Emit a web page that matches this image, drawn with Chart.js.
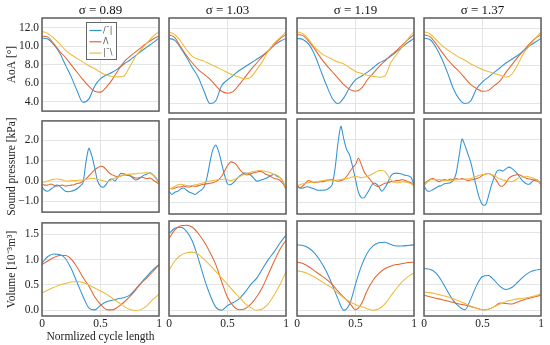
<!DOCTYPE html>
<html>
<head>
<meta charset="utf-8">
<script src="https://cdn.jsdelivr.net/npm/chart.js@4.4.1/dist/chart.umd.min.js"></script>
<style>
html, body { margin: 0; padding: 0; background: #fff; }
#wrap { position: relative; width: 550px; height: 345px; overflow: hidden; }
#wrap canvas { position: absolute; }
</style>
</head>
<body>
<div id="wrap"></div>
<script>
// column headers and legend entries
const sigmas = ["0.89", "1.03", "1.19", "1.37"];
const shapes = ["/\u00af|", "\u039b", "|\u00af\\"];
const rowLabels = ["AoA [\u00b0]", "Sound pressure [kPa]", "Volume [10\u207b\u00b3m\u00b3]"];
const xLabel = "Normlized cycle length";

// x positions (normalized cycle)
const xs21 = [0,0.05,0.1,0.15,0.2,0.25,0.3,0.35,0.4,0.45,0.5,0.55,0.6,0.65,0.7,0.75,0.8,0.85,0.9,0.95,1];
const xs41 = [0,0.025,0.05,0.075,0.1,0.125,0.15,0.175,0.2,0.225,0.25,0.275,0.3,0.325,0.35,0.375,0.4,0.425,0.45,0.475,0.5,
              0.525,0.55,0.575,0.6,0.625,0.65,0.675,0.7,0.725,0.75,0.775,0.8,0.825,0.85,0.875,0.9,0.925,0.95,0.975,1];

// AoA
const aoaB1 = [10.9,10.8,10.2,9.3,8.0,6.7,5.2,3.95,4.3,5.7,6.5,6.9,7.2,7.6,8.1,8.5,9.0,9.5,9.95,10.4,10.9];
const aoaO1 = [11.1,11.0,10.3,9.5,8.8,8.0,7.2,6.4,5.7,5.15,5.05,5.6,6.4,7.4,8.3,8.9,9.4,9.9,10.4,10.8,11.1];
const aoaY1 = [11.6,11.4,10.9,10.3,9.6,9.1,8.7,8.3,7.9,7.6,7.2,6.9,6.75,6.7,6.8,7.8,8.9,9.7,10.4,11.1,11.6];
const aoaB2 = [10.9,10.7,9.9,8.9,7.8,6.8,5.3,4.0,4.3,5.9,6.5,7.0,7.5,7.9,8.3,8.7,9.1,9.6,10.2,10.6,10.9];
const aoaO2 = [11.3,11.0,10.0,9.1,8.3,7.6,7.1,6.6,5.9,5.3,5.1,5.3,6.0,6.8,7.6,8.3,9.0,9.6,10.3,10.9,11.3];
const aoaY2 = [11.6,11.3,10.6,9.7,9.0,8.7,8.5,8.2,7.9,7.6,7.3,7.0,6.8,6.6,6.8,7.6,8.5,9.6,10.4,11.0,11.6];
const aoaB3 = [10.9,10.8,10.3,9.2,7.6,6.0,4.6,4.0,4.6,5.7,6.5,6.9,7.3,7.8,8.3,8.6,9.0,9.5,10.0,10.5,10.9];
const aoaO3 = [11.3,11.2,10.6,9.8,8.9,8.1,7.4,6.7,6.0,5.5,5.3,5.6,6.5,7.2,7.9,8.5,9.1,9.6,10.2,10.8,11.3];
const aoaY3 = [11.6,11.4,10.8,10.0,9.4,9.0,8.7,8.4,8.2,7.8,7.4,7.2,7.0,6.9,6.8,6.9,8.3,9.2,10.0,10.9,11.6];
const aoaB4 = [10.9,10.8,10.0,8.8,7.3,5.6,4.5,4.0,4.3,5.6,6.3,6.8,7.3,7.8,8.3,8.7,9.1,9.6,10.1,10.5,10.9];
const aoaO4 = [11.3,11.1,10.4,9.5,8.7,8.0,7.4,6.7,6.0,5.6,5.3,5.4,5.9,6.4,7.3,8.1,8.9,9.6,10.3,10.9,11.3];
const aoaY4 = [11.6,11.4,10.8,10.2,9.7,9.3,8.9,8.6,8.2,7.9,7.6,7.4,7.2,7.0,6.8,7.1,8.1,9.3,10.1,10.9,11.6];

// sound pressure
const spB1 = [-0.3,-0.45,-0.5,-0.4,-0.3,-0.2,-0.25,-0.38,-0.5,-0.52,-0.5,-0.45,-0.38,-0.25,-0.1,0.9,1.6,1.25,0.65,0.0,-0.25,-0.3,-0.15,0.05,0.1,0.0,0.2,0.38,0.35,0.3,0.25,0.15,0.05,0.1,0.2,0.3,0.35,0.4,0.3,0.15,-0.1];
const spO1 = [-0.15,-0.2,-0.2,-0.15,-0.2,-0.25,-0.22,-0.2,-0.25,-0.22,-0.2,-0.18,-0.12,-0.1,0.0,0.1,0.25,0.4,0.55,0.65,0.72,0.7,0.55,0.4,0.3,0.25,0.2,0.25,0.3,0.28,0.3,0.2,0.15,0.15,0.2,0.15,0.12,0.15,0.05,-0.05,-0.15];
const spY1 = [-0.05,-0.05,0.0,0.05,0.08,0.1,0.08,0.05,0.0,0.0,0.02,0.02,0.03,0.05,0.05,0.08,0.1,0.12,0.12,0.08,0.05,0.0,-0.03,0.0,0.08,0.15,0.2,0.25,0.3,0.32,0.33,0.35,0.35,0.38,0.38,0.4,0.4,0.38,0.28,0.1,-0.1];
const spB2 = [-0.45,-0.6,-0.5,-0.45,-0.35,-0.3,-0.4,-0.5,-0.55,-0.6,-0.5,-0.4,-0.25,0.2,0.9,1.5,1.72,1.4,0.85,0.3,-0.1,-0.15,-0.05,0.1,0.25,0.35,0.4,0.38,0.3,0.15,0.02,0.05,0.1,0.15,0.22,0.3,0.33,0.25,0.18,0.0,-0.35];
const spO2 = [-0.3,-0.35,-0.3,-0.25,-0.25,-0.2,-0.25,-0.25,-0.2,-0.22,-0.2,-0.15,-0.12,-0.1,-0.08,-0.05,0.0,0.1,0.25,0.5,0.75,0.92,0.9,0.8,0.6,0.45,0.35,0.32,0.38,0.42,0.45,0.48,0.45,0.35,0.3,0.22,0.15,0.12,0.05,-0.1,-0.35];
const spY2 = [-0.35,-0.3,-0.22,-0.15,-0.12,-0.15,-0.18,-0.2,-0.18,-0.15,-0.12,-0.08,-0.05,0.0,0.03,0.05,0.08,0.1,0.1,0.12,0.1,0.05,0.08,0.15,0.22,0.3,0.35,0.4,0.45,0.48,0.5,0.52,0.5,0.48,0.45,0.4,0.35,0.3,0.18,0.0,-0.35];
const spB3 = [-0.2,-0.3,-0.3,-0.25,-0.25,-0.3,-0.35,-0.4,-0.4,-0.4,-0.38,-0.3,-0.15,0.6,1.8,2.6,2.0,1.5,1.25,0.7,0.1,-0.5,-0.75,-0.75,-0.55,-0.3,-0.08,-0.1,-0.25,-0.45,-0.3,-0.05,0.25,0.38,0.4,0.38,0.35,0.3,0.28,0.2,-0.15];
const spO3 = [-0.15,-0.3,-0.2,-0.05,0.05,0.0,-0.05,-0.02,0.0,0.0,0.05,0.08,0.1,0.05,0.02,0.05,0.1,0.25,0.45,0.65,0.8,1.1,0.8,0.45,0.25,0.1,-0.1,-0.2,-0.22,-0.15,-0.08,-0.05,0.0,0.0,0.05,0.05,0.1,0.05,0.0,-0.05,-0.2];
const spY3 = [-0.2,-0.15,-0.1,-0.08,-0.05,-0.03,-0.02,0.0,0.03,0.05,0.08,0.08,0.06,0.06,0.08,0.1,0.12,0.15,0.18,0.22,0.25,0.22,0.18,0.2,0.25,0.3,0.38,0.45,0.52,0.52,0.48,0.3,0.1,0.0,-0.05,-0.05,0.0,-0.02,-0.05,-0.1,-0.2];
const spB4 = [-0.2,-0.42,-0.45,-0.38,-0.3,-0.22,-0.18,-0.1,-0.08,-0.05,0.05,0.4,1.2,2.0,1.7,1.3,0.9,0.3,-0.3,-0.8,-1.08,-1.1,-0.7,-0.2,0.2,0.5,0.55,0.5,0.6,0.68,0.62,0.5,0.35,0.15,0.0,-0.1,-0.12,0.0,0.1,0.05,-0.15];
const spO4 = [-0.1,0.0,0.1,0.15,0.08,0.0,0.05,0.1,0.05,0.12,0.1,0.15,0.1,0.15,0.1,0.05,0.08,0.1,0.15,0.2,0.3,0.35,0.38,0.33,0.2,0.0,-0.2,-0.2,-0.05,0.15,0.25,0.3,0.33,0.3,0.22,0.15,0.12,0.1,0.05,0.0,-0.1];
const spY4 = [-0.2,-0.05,0.08,0.1,0.08,0.1,0.08,0.05,0.06,0.05,0.06,0.08,0.1,0.1,0.12,0.12,0.15,0.2,0.25,0.3,0.33,0.36,0.38,0.35,0.28,0.2,0.12,0.08,0.05,0.02,0.0,0.05,0.15,0.2,0.22,0.25,0.22,0.18,0.12,0.05,-0.15];

// volume
const volB1 = [0.93,1.06,1.11,1.1,1.02,0.82,0.55,0.28,0.05,0.01,0.1,0.17,0.2,0.23,0.25,0.3,0.42,0.55,0.68,0.8,0.9];
const volO1 = [0.9,0.97,1.04,1.08,1.08,1.01,0.85,0.65,0.48,0.27,0.12,0.02,0.01,0.07,0.16,0.27,0.4,0.54,0.65,0.77,0.9];
const volY1 = [0.34,0.4,0.45,0.5,0.53,0.56,0.57,0.55,0.5,0.44,0.38,0.32,0.24,0.16,0.08,0.02,0.0,0.02,0.1,0.22,0.32];
const volB2 = [1.48,1.58,1.6,1.52,1.33,1.0,0.62,0.3,0.06,0.0,0.09,0.15,0.22,0.35,0.5,0.62,0.8,0.98,1.13,1.3,1.45];
const volO2 = [1.38,1.55,1.63,1.64,1.6,1.48,1.32,1.12,0.88,0.55,0.25,0.08,0.01,0.03,0.12,0.26,0.45,0.7,0.95,1.18,1.35];
const volY2 = [0.77,0.95,1.06,1.11,1.12,1.08,0.98,0.87,0.75,0.62,0.5,0.37,0.25,0.13,0.05,0.0,0.03,0.13,0.3,0.5,0.74];
const volB3 = [1.26,1.25,1.2,1.1,0.95,0.75,0.5,0.22,0.0,0.12,0.5,0.85,1.1,1.24,1.3,1.31,1.27,1.24,1.24,1.25,1.26];
const volO3 = [0.93,0.9,0.84,0.76,0.68,0.6,0.5,0.37,0.25,0.14,0.01,0.12,0.38,0.58,0.71,0.8,0.85,0.88,0.9,0.92,0.93];
const volY3 = [0.76,0.74,0.7,0.64,0.57,0.5,0.43,0.33,0.24,0.17,0.11,0.07,0.03,0.0,0.03,0.12,0.27,0.42,0.55,0.65,0.72];
const volB4 = [0.8,0.79,0.72,0.57,0.37,0.19,0.07,0.01,0.22,0.48,0.65,0.67,0.58,0.46,0.4,0.44,0.54,0.65,0.73,0.77,0.79];
const volO4 = [0.29,0.26,0.23,0.21,0.18,0.15,0.12,0.1,0.07,0.04,0.01,0.02,0.07,0.14,0.13,0.12,0.16,0.2,0.23,0.26,0.29];
const volY4 = [0.35,0.34,0.32,0.29,0.26,0.22,0.18,0.13,0.08,0.04,0.01,0.02,0.07,0.12,0.17,0.2,0.22,0.23,0.25,0.28,0.32];

const rows = [
  [[aoaB1, aoaO1, aoaY1], [aoaB2, aoaO2, aoaY2], [aoaB3, aoaO3, aoaY3], [aoaB4, aoaO4, aoaY4]],
  [[spB1, spO1, spY1], [spB2, spO2, spY2], [spB3, spO3, spY3], [spB4, spO4, spY4]],
  [[volB1, volO1, volY1], [volB2, volO2, volY2], [volB3, volO3, volY3], [volB4, volO4, volY4]]
];
const rowX = [xs21, xs41, xs21];

// axes setup
const rowMin = [3.0, -1.52, -0.11];
const rowMax = [13.07, 2.94, 1.72];
const rowStep = [2, 1, 0.5];
const colors = ["#3192d6", "#e4652f", "#efbb3a"];

const colLeft = [42, 169, 297, 424];
const rowTop = [18, 119, 221];
const plotW = 117, plotH = 95;

Chart.defaults.font.family = "'Liberation Serif', serif";
Chart.defaults.color = "#222";

const frame = {
  id: "frame",
  afterDraw(chart) {
    const a = chart.chartArea, ctx = chart.ctx;
    ctx.save();
    ctx.strokeStyle = "#5c5c5c";
    ctx.lineWidth = 1.5;
    ctx.strokeRect(a.left, a.top, a.right - a.left, a.bottom - a.top);
    ctx.restore();
  }
};

const legendBox = {
  id: "legendBox",
  afterDatasetsDraw(chart) {
    if (!chart.options.plugins.legendBox.show) return;
    const a = chart.chartArea, ctx = chart.ctx;
    const x = a.left + 44, y = a.top + 4, w = 30, h = 37;
    ctx.save();
    ctx.fillStyle = "#fff";
    ctx.fillRect(x, y, w, h);
    ctx.strokeStyle = "#666";
    ctx.lineWidth = 1;
    ctx.strokeRect(x + 0.5, y + 0.5, w, h);
    ctx.font = "8px 'DejaVu Sans'";
    ctx.textBaseline = "middle";
    chart.data.datasets.forEach((ds, i) => {
      const yy = y + 8.5 + i * 11.3;
      ctx.strokeStyle = ds.borderColor;
      ctx.lineWidth = 1.2;
      ctx.beginPath();
      ctx.moveTo(x + 3.5, yy);
      ctx.lineTo(x + 15.5, yy);
      ctx.stroke();
      ctx.fillStyle = "#555";
      ctx.fillText(ds.label, x + 17, yy);
    });
    ctx.restore();
  }
};

function yTick(r) {
  return function (v) {
    if (r === 1 && v < 0) return "\u2212" + Math.abs(v).toFixed(1);
    return v.toFixed(1);
  };
}

const wrap = document.getElementById("wrap");

function panel(r, c) {
  const cv = document.createElement("canvas");
  const padL = c === 0 ? 4 : 6, yW = c === 0 ? 38 : 0, padR = 6;
  const titleH = r === 0 ? 18 : 0, padT = r === 0 ? 0 : 8;
  const xH = r === 2 ? 29 : 0, padB = r === 2 ? 0 : 8;
  cv.width = padL + yW + plotW + padR;
  cv.height = titleH + padT + plotH + xH + padB;
  cv.style.left = (colLeft[c] - padL - yW) + "px";
  cv.style.top = (rowTop[r] - titleH - padT) + "px";
  wrap.appendChild(cv);

  const xs = rowX[r];
  const series = rows[r][c];
  const datasets = series.map((vals, i) => ({
    label: shapes[i],
    data: xs.map((x, k) => ({ x: x, y: vals[k] })),
    borderColor: colors[i],
    borderWidth: 1.05,
    pointRadius: 0,
    fill: false,
    order: 3 - i,
    tension: r === 1 ? 0.25 : 0,
    cubicInterpolationMode: r === 1 ? "default" : "monotone"
  }));

  new Chart(cv, {
    type: "line",
    data: { datasets: datasets },
    options: {
      responsive: false,
      animation: false,
      events: [],
      layout: { padding: { left: padL, right: padR, top: padT, bottom: padB } },
      plugins: {
        legend: { display: false },
        tooltip: { enabled: false },
        legendBox: { show: r === 0 && c === 0 },
        title: {
          display: r === 0,
          fullSize: false,
          text: "\u03c3 = " + sigmas[c],
          color: "#111",
          font: { size: 13, weight: "normal" },
          padding: { top: 2.4, bottom: 0 }
        }
      },
      scales: {
        x: {
          type: "linear",
          min: 0,
          max: 1,
          ticks: {
            display: r === 2,
            stepSize: 0.5,
            padding: 1,
            maxRotation: 0,
            font: { size: 11.5 },
            callback: v => String(v)
          },
          grid: { color: "#e4e4e4", lineWidth: 1, drawTicks: false },
          border: { display: false },
          title: {
            display: r === 2 && c === 0,
            text: xLabel,
            font: { size: 11.5 },
            padding: { top: 0, bottom: 1 }
          },
          afterFit: s => { s.height = xH; }
        },
        y: {
          min: rowMin[r],
          max: rowMax[r],
          ticks: {
            display: c === 0,
            stepSize: rowStep[r],
            includeBounds: false,
            padding: 3,
            font: { size: 11.5 },
            callback: yTick(r)
          },
          grid: { color: "#e4e4e4", lineWidth: 1, drawTicks: false },
          border: { display: false },
          title: {
            display: c === 0,
            text: rowLabels[r],
            font: { size: 11.5 },
            padding: { top: 1, bottom: 0 }
          },
          afterFit: s => { s.width = yW; }
        }
      }
    },
    plugins: [legendBox, frame]
  });
}

for (let r = 0; r < 3; r++) {
  for (let c = 0; c < 4; c++) {
    panel(r, c);
  }
}
</script>
</body>
</html>
